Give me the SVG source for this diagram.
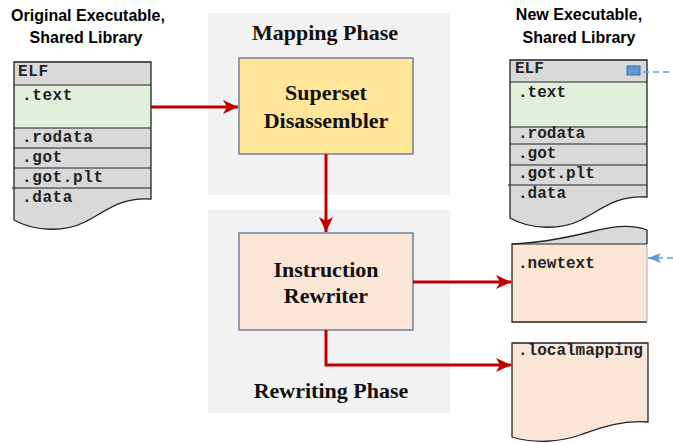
<svg xmlns="http://www.w3.org/2000/svg" width="673" height="443" viewBox="0 0 673 443">
<defs>
<style>
.title{font-family:"Liberation Sans",Arial,sans-serif;font-weight:bold;font-size:16px;fill:#000;text-anchor:middle}
.serif{font-family:"Liberation Serif","Times New Roman",serif;font-weight:bold;font-size:22px;fill:#111;text-anchor:middle}
.mono{font-family:"Liberation Mono","Courier New",monospace;font-weight:bold;font-size:16px;fill:#222}
.panel{fill:#f2f2f2}
.gray{fill:#d9d9d9}
.green{fill:#e2efda}
.peach{fill:#fbe5d6}
.sep{stroke:#222;stroke-width:1;fill:none}
.outline{fill:none;stroke:#222;stroke-width:1.3}
.box{stroke:#5f6f8f;stroke-width:1.3}
.red{stroke:#c00000;stroke-width:3;fill:none}
.blue{stroke:#5b9bd5;stroke-width:1.5;stroke-dasharray:6 4;fill:none}
</style>
<marker id="ar" markerUnits="userSpaceOnUse" markerWidth="16" markerHeight="14" refX="15" refY="7" orient="auto" viewBox="0 0 16 14">
<path d="M0,0 L15,7 L0,14 L4,7 Z" fill="#c00000"/>
</marker>
<marker id="ab" markerUnits="userSpaceOnUse" markerWidth="14" markerHeight="10" refX="13" refY="5" orient="auto" viewBox="0 0 14 10">
<path d="M0,0 L13,5 L0,10 L3,5 Z" fill="#5b9bd5"/>
</marker>
</defs>
<rect width="673" height="443" fill="#fff"/>

<g id="mapping-phase">
<rect class="panel" x="208" y="13" width="242" height="182"/>
<text class="serif" x="325" y="40">Mapping Phase</text>
</g>
<g id="rewriting-phase">
<rect class="panel" x="208" y="210" width="242" height="203"/>
<text class="serif" x="331" y="398">Rewriting Phase</text>
</g>

<g id="original-binary">
<text class="title" x="88" y="21">Original Executable,</text>
<text class="title" x="86" y="43">Shared Library</text>
<path class="gray" d="M14,62 H151 V199 C120,197 105,212 85,222 C65,232 35,232 14,220 Z"/>
<rect class="green" x="14" y="85" width="137" height="43"/>
<path class="sep" d="M14,85 H151 M14,128 H151 M14,148 H151 M14,168 H151 M12,188 H151"/>
<path class="outline" d="M14,62 H151 V199 C120,197 105,212 85,222 C65,232 35,232 14,220 Z"/>
<g class="mono" letter-spacing="0.6">
<text x="18" y="76">ELF</text>
<text x="22" y="100">.text</text>
<text x="22" y="142">.rodata</text>
<text x="22" y="162">.got</text>
<text x="22" y="182">.got.plt</text>
<text x="22" y="202">.data</text>
</g>
</g>

<g id="superset-disassembler">
<rect class="box" x="239" y="58" width="174" height="96" fill="#ffe699"/>
<text class="serif" x="326" y="100">Superset</text>
<text class="serif" x="326" y="128">Disassembler</text>
</g>

<g id="instruction-rewriter">
<rect class="box" x="239" y="233" width="174" height="97" fill="#fbe5d6"/>
<text class="serif" x="326" y="277">Instruction</text>
<text class="serif" x="326" y="303">Rewriter</text>
</g>

<g id="new-binary">
<text class="title" x="579" y="20">New Executable,</text>
<text class="title" x="579" y="43">Shared Library</text>
<path class="gray" d="M510,60 H647 V197 C616,195 601,210 581,220 C561,230 531,230 510,218 Z"/>
<rect class="green" x="510" y="82" width="137" height="45"/>
<path class="sep" d="M510,82 H647 M510,127 H647 M510,144 H647 M510,165 H647 M508,185 H647"/>
<path class="outline" d="M510,60 H647 V197 C616,195 601,210 581,220 C561,230 531,230 510,218 Z"/>
<rect x="627" y="66" width="13" height="9" fill="#5b9bd5" stroke="#41719c" stroke-width="1"/>
<g class="mono">
<text x="515" y="73">ELF</text>
<text x="518" y="97">.text</text>
<text x="518" y="138">.rodata</text>
<text x="518" y="158">.got</text>
<text x="518" y="178">.got.plt</text>
<text x="518" y="198">.data</text>
</g>
</g>

<g id="newtext">
<path class="gray" d="M512,244 C540,243 565,238 590,232 C612,226 632,224 647,230 V244 Z"/>
<rect class="peach" x="512" y="244" width="135" height="78"/>
<path class="outline" d="M647,244 V230 C632,224 612,226 590,232 C565,238 540,243 512,244 V322 H647"/>
<path class="sep" d="M512,244 H647"/>
<path d="M647,244 V322" stroke="#b0b0b0" stroke-width="1" fill="none"/>
<text class="mono" x="518" y="268">.newtext</text>
</g>

<g id="localmapping">
<path class="peach" d="M512,343 H648 V422 C620,420 600,428 580,435 C560,442 535,444 512,437 Z"/>
<path class="outline" d="M512,343 H648 V422 C620,420 600,428 580,435 C560,442 535,444 512,437 Z"/>
<text class="mono" x="518" y="355">.localmapping</text>
</g>

<g id="connectors">
<path class="red" d="M151,107 H238" marker-end="url(#ar)"/>
<path class="red" d="M326,154 V232" marker-end="url(#ar)"/>
<path class="red" d="M413,282 H511" marker-end="url(#ar)"/>
<path class="red" d="M326,330 V365 H511" marker-end="url(#ar)"/>
<path class="blue" d="M643,72 H673"/>
<path class="blue" d="M673,258 H648" marker-end="url(#ab)"/>
</g>
</svg>
